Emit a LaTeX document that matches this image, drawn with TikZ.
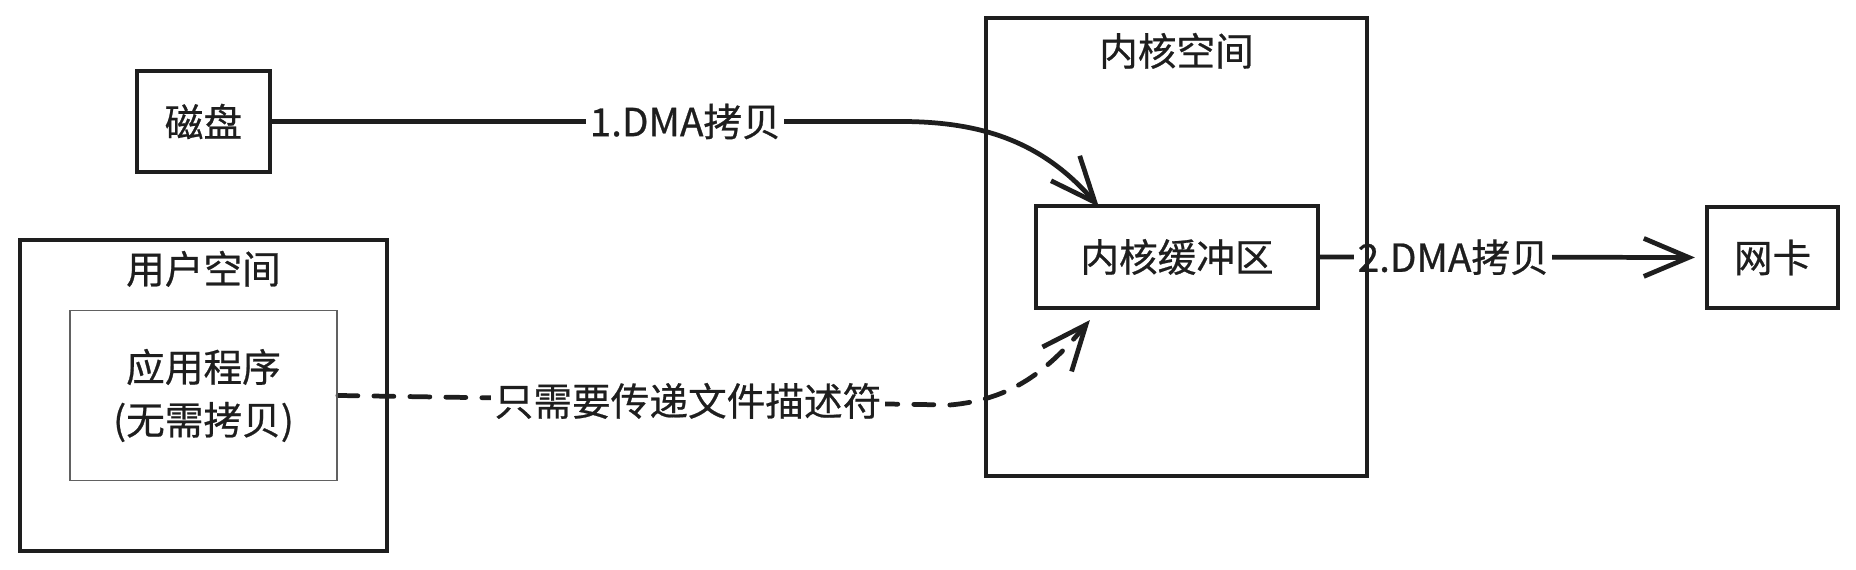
\documentclass[tikz,border=0pt]{standalone}
\usepackage{fontspec}
\setmainfont{Noto Sans CJK SC}[FakeBold=0.6]
\usetikzlibrary{arrows.meta, positioning, calc, backgrounds}
\definecolor{ink}{HTML}{1E1E1E}

\begin{document}
\begin{tikzpicture}[
    >={Straight Barb[length=4.5mm, width=3.8mm]},
    font=\fontsize{11}{15}\selectfont,
    box/.style={rectangle, draw=ink, line width=1.2pt, text=ink, align=center, inner sep=0pt},
    appbox/.style={rectangle, draw=ink!70, line width=0.5pt, text=ink, align=center, inner sep=0pt},
    title/.style={inner sep=0pt, text=ink},
    arrow/.style={->, line width=1.35pt, draw=ink, line cap=round},
    dashed_arrow/.style={->, line width=1.35pt, draw=ink, dash pattern=on 2mm off 1.6mm, line cap=round},
    lbl/.style={fill=white, inner sep=1pt, text=ink}
]
\useasboundingbox (0,0) rectangle (18.56,5.70);

% ---- Left side: disk and user space ----
\node[box, minimum width=1.33cm, minimum height=1.01cm] (disk) at (2.035,4.485) {磁盘};

\node[box, minimum width=3.67cm, minimum height=3.11cm] (user) at (2.035,1.745) {};
\node[title] (usertitle) at ([yshift=-0.31cm]user.north) {用户空间};
\node[appbox, minimum width=2.67cm, minimum height=1.70cm] (app) at (user.center) {应用程序\\(无需拷贝)};

% ---- Middle: kernel space ----
\node[box, minimum width=3.81cm, minimum height=4.58cm] (kernel) at (11.765,3.23) {};
\node[title] (kerneltitle) at ([yshift=-0.35cm]kernel.north) {内核空间};
\node[box, minimum width=2.82cm, minimum height=1.02cm] (kbuf) at (11.77,3.13) {内核缓冲区};

% ---- Right side: network card ----
\node[box, minimum width=1.31cm, minimum height=1.01cm] (nic) at (17.725,3.125) {网卡};

% ---- Connections ----
\coordinate (bend1) at (9.0,4.485);
\coordinate (kbuftop) at ($(kbuf.north west)+(0.65,-0.03)$);
\coordinate (bend2) at (9.5,1.65);
\coordinate (kbufbottom) at ($(kbuf.south west)+(0.56,-0.10)$);

\begin{scope}[on background layer]
\fill[white] (0,0) rectangle (18.56,5.70);
\draw[arrow] (disk.east) -- node[lbl, pos=0.658] (dma1) {1.DMA拷贝} (bend1) to[out=0, in=131] (kbuftop);
\draw[arrow, shorten >=1mm] (kbuf.east) -- node[lbl, pos=0.346] (dma2) {2.DMA拷贝} (nic.west);
\draw[dashed_arrow] (app.east) -- node[lbl, pos=0.572] (fdlabel) {只需要传递文件描述符} (bend2) to[out=5, in=230] (kbufbottom);
\end{scope}

\end{tikzpicture}
\end{document}
